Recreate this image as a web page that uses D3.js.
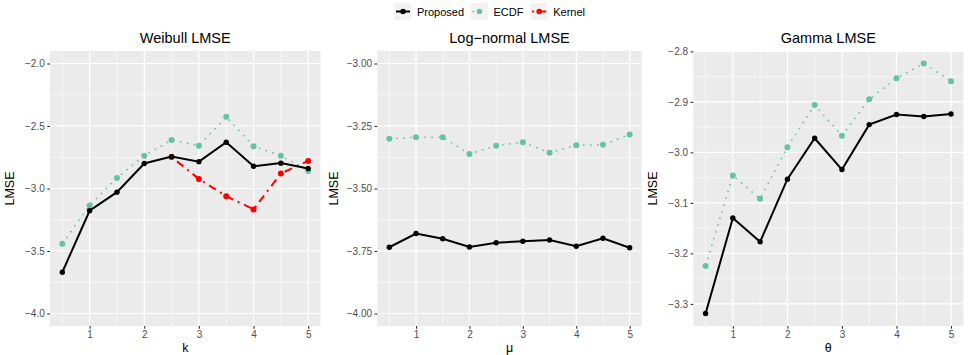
<!DOCTYPE html>
<html>
<head>
<meta charset="utf-8">
<script src="https://cdn.jsdelivr.net/npm/d3@7"></script>
<style>
  body { margin: 0; background: #fff; }
  svg { display: block; font-family: "Liberation Sans", Arial, sans-serif; }
</style>
</head>
<body>
<svg id="chart" width="969" height="355"></svg>
<script>
// Shared x grid for every panel
const xValues = [0.5, 1, 1.5, 2, 2.5, 3, 3.5, 4, 4.5, 5];

// Weibull
const weibullProposed = [-3.670, -3.178, -3.029, -2.800, -2.745, -2.785, -2.630, -2.822, -2.797, -2.840];
const weibullECDF     = [-3.441, -3.135, -2.915, -2.737, -2.612, -2.657, -2.426, -2.662, -2.737, -2.859];
const weibullKernel   = [null, null, null, null, -2.748, -2.923, -3.061, -3.167, -2.880, -2.779];

// Log-normal
const lognormProposed = [-3.735, -3.680, -3.701, -3.734, -3.717, -3.711, -3.706, -3.731, -3.699, -3.737];
const lognormECDF     = [-3.301, -3.295, -3.295, -3.362, -3.329, -3.315, -3.357, -3.327, -3.325, -3.284];

// Gamma
const gammaProposed = [-3.319, -3.130, -3.177, -3.053, -2.972, -3.034, -2.945, -2.925, -2.929, -2.924];
const gammaECDF     = [-3.225, -3.046, -3.092, -2.990, -2.906, -2.967, -2.895, -2.853, -2.824, -2.859];

// Axis ticks
const xTicks = [1, 2, 3, 4, 5];
const weibullYTicks = [-2.0, -2.5, -3.0, -3.5, -4.0];
const lognormYTicks = [-3.00, -3.25, -3.50, -3.75, -4.00];
const gammaYTicks = [-2.8, -2.9, -3.0, -3.1, -3.2, -3.3];

const legendLabels = ["Proposed", "ECDF", "Kernel"];
const seriesStyle = {
  Proposed: { color: "#000000", dash: null },
  ECDF:     { color: "#66C2A5", dash: "1.6,5.4" },
  Kernel:   { color: "#FF0000", dash: "2,5,8,5" }
};

const panels = [
  { title: "Weibull LMSE", xlab: "k", left: 50, right: 320.5,
    yLimits: [-4, -2], yTicks: weibullYTicks, yMinor: [-2.25, -2.75, -3.25, -3.75], fmt: ".1f",
    series: { Proposed: weibullProposed, ECDF: weibullECDF, Kernel: weibullKernel } },
  { title: "Log\u2212normal LMSE", xlab: "\u03bc", left: 377.3, right: 641.7,
    yLimits: [-4, -3], yTicks: lognormYTicks, yMinor: [-3.125, -3.375, -3.625, -3.875], fmt: ".2f",
    series: { Proposed: lognormProposed, ECDF: lognormECDF } },
  { title: "Gamma LMSE", xlab: "\u03b8", left: 693.3, right: 963.3,
    yLimits: null, yTicks: gammaYTicks, yMinor: [-2.85, -2.95, -3.05, -3.15, -3.25], fmt: ".1f",
    series: { Proposed: gammaProposed, ECDF: gammaECDF } }
];

const plotTop = 51, plotBottom = 326;
const svg = d3.select("#chart");
const minus = s => s.replace("-", "\u2212");

panels.forEach(p => {
  // x scale with 5% expansion on each side
  const xr = d3.extent(xValues), xpad = (xr[1] - xr[0]) * 0.05;
  const x = d3.scaleLinear().domain([xr[0] - xpad, xr[1] + xpad]).range([p.left, p.right]);

  let yl = p.yLimits;
  if (!yl) {
    const all = Object.values(p.series).flat().filter(v => v != null);
    yl = d3.extent(all);
  }
  const ypad = (yl[1] - yl[0]) * 0.05;
  const y = d3.scaleLinear().domain([yl[0] - ypad, yl[1] + ypad]).range([plotBottom, plotTop]);

  const g = svg.append("g");
  g.append("rect").attr("x", p.left).attr("y", plotTop)
    .attr("width", p.right - p.left).attr("height", plotBottom - plotTop).attr("fill", "#EBEBEB");

  const xMinor = [0.5, 1.5, 2.5, 3.5, 4.5];
  // minor grid
  g.selectAll(".xminor").data(xMinor).join("line")
    .attr("x1", d => x(d)).attr("x2", d => x(d)).attr("y1", plotTop).attr("y2", plotBottom)
    .attr("stroke", "#fff").attr("stroke-width", 0.6);
  g.selectAll(".yminor").data(p.yMinor.filter(v => y(v) >= plotTop && y(v) <= plotBottom)).join("line")
    .attr("x1", p.left).attr("x2", p.right).attr("y1", d => y(d)).attr("y2", d => y(d))
    .attr("stroke", "#fff").attr("stroke-width", 0.6);
  // major grid
  g.selectAll(".xmajor").data(xTicks).join("line")
    .attr("x1", d => x(d)).attr("x2", d => x(d)).attr("y1", plotTop).attr("y2", plotBottom)
    .attr("stroke", "#fff").attr("stroke-width", 1.2);
  g.selectAll(".ymajor").data(p.yTicks).join("line")
    .attr("x1", p.left).attr("x2", p.right).attr("y1", d => y(d)).attr("y2", d => y(d))
    .attr("stroke", "#fff").attr("stroke-width", 1.2);

  // axes
  const xAxis = d3.axisBottom(x).tickValues(xTicks).tickSize(2.75).tickPadding(2.5).tickFormat(d3.format("d"));
  const gx = g.append("g").attr("transform", `translate(0,${plotBottom})`).call(xAxis);
  const yAxis = d3.axisLeft(y).tickValues(p.yTicks).tickSize(2.75).tickPadding(2.5)
    .tickFormat(d => minus(d3.format(p.fmt)(d)));
  const gy = g.append("g").attr("transform", `translate(${p.left},0)`).call(yAxis);
  [gx, gy].forEach(a => {
    a.select(".domain").remove();
    a.selectAll(".tick line").attr("stroke", "#333333").attr("stroke-width", 1.1);
    a.selectAll(".tick text").attr("fill", "#4D4D4D").attr("font-size", "10px");
  });

  // series lines and points
  ["ECDF", "Kernel", "Proposed"].forEach(name => {
    const vals = p.series[name];
    if (!vals) return;
    const st = seriesStyle[name];
    const pts = xValues.map((xv, i) => ({ x: xv, y: vals[i] })).filter(d => d.y != null);
    const line = d3.line().x(d => x(d.x)).y(d => y(d.y));
    g.append("path").datum(pts).attr("d", line).attr("fill", "none")
      .attr("stroke", st.color).attr("stroke-width", name === "ECDF" ? 1.6 : 2)
      .attr("stroke-dasharray", st.dash).attr("stroke-linecap", "butt");
    g.selectAll(".pt-" + name).data(pts).join("circle")
      .attr("cx", d => x(d.x)).attr("cy", d => y(d.y)).attr("r", name === "Proposed" ? 2.7 : 3)
      .attr("fill", st.color);
  });

  const cx = (p.left + p.right) / 2;
  g.append("text").attr("x", cx).attr("y", 42.5).attr("text-anchor", "middle")
    .attr("font-size", "14.5px").attr("fill", "#000").text(p.title);
  g.append("text").attr("x", cx).attr("y", 352).attr("text-anchor", "middle")
    .attr("font-size", "12.5px").attr("fill", "#000").text(p.xlab);
  g.append("text").attr("transform", `translate(${p.left - 36 + (p.fmt === ".2f" ? -3 : 0)},${(plotTop + plotBottom) / 2}) rotate(-90)`)
    .attr("text-anchor", "middle").attr("font-size", "12.5px").attr("fill", "#000").text("LMSE");
});

// legend
const legendX = [394.5, 471, 530.7];
const lg = svg.append("g");
legendLabels.forEach((name, i) => {
  const st = seriesStyle[name];
  const kx = legendX[i];
  lg.append("rect").attr("x", kx).attr("y", 3).attr("width", 17).attr("height", 17).attr("fill", "#F2F2F2");
  lg.append("line").attr("x1", kx + 1.5).attr("x2", kx + 15.5).attr("y1", 11.5).attr("y2", 11.5)
    .attr("stroke", st.color).attr("stroke-width", name === "ECDF" ? 1.6 : 2).attr("stroke-dasharray", st.dash);
  lg.append("circle").attr("cx", kx + 8.5).attr("cy", 11.5).attr("r", 2.8).attr("fill", st.color);
  lg.append("text").attr("x", kx + 22.5).attr("y", 15.5).attr("font-size", "11px").attr("fill", "#000").text(name);
});
</script>
</body>
</html>
